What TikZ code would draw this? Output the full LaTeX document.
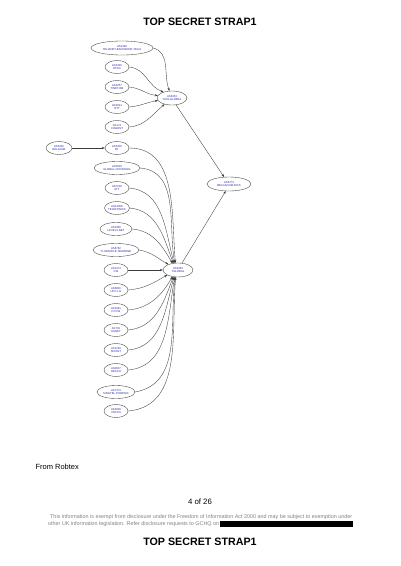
\documentclass[tikz,border=0pt]{standalone}
\usepackage{fontspec}
\setmainfont{Liberation Sans}
\usetikzlibrary{shapes.geometric,arrows.meta}
\definecolor{lbl}{RGB}{40,40,170}
\definecolor{edge}{RGB}{60,60,60}
\definecolor{disc}{RGB}{130,130,130}
\tikzset{
  asn/.style={draw=edge,line width=0.35pt,ellipse,inner sep=0pt,minimum height=13pt,minimum width=24pt,
    text=lbl,font=\fontsize{2.8}{3.2}\selectfont,align=center},
  link/.style={draw=edge,line width=0.35pt,-{Stealth[length=3pt,width=2.2pt]}},
  titlef/.style={font=\fontsize{10.7}{12}\selectfont\bfseries,text=black},
  discf/.style={anchor=west,font=\fontsize{5.4}{7}\selectfont,text=disc,inner sep=0pt}
}
\begin{document}
\begin{tikzpicture}[x=1pt,y=-1pt]
\useasboundingbox (0,0) rectangle (400,566);
\fill[white] (0,0) rectangle (400,566);
\node[titlef] (t1) at (200,22) {TOP SECRET STRAP1};
\node[titlef] (t2) at (200,542) {TOP SECRET STRAP1};

% top cluster
\node[asn,minimum width=62pt,minimum height=14pt] (n1) at (122,48) {AS1299\\TELIANET-BACKBONE-TELIA};
\node[asn] (n2) at (117,67) {AS3320\\DTAG};
\node[asn] (n3) at (117,87) {AS3257\\TINET-BB};
\node[asn] (n4) at (117,107) {AS2914\\NTT};
\node[asn] (n5) at (117,127) {AS174\\COGENT};
\node[asn,minimum width=30pt,minimum height=14pt] (ha) at (172,98) {AS6453\\TATA-GLOBAL};

% right node
\node[asn,minimum width=44pt,minimum height=14pt] (rn) at (229,184) {AS6774\\BELGACOM-BICS};

% left node
\node[asn,minimum width=26pt] (n7) at (59,148) {AS5432\\BELGIUM};
% lower column
\node[asn] (n8) at (117,148) {AS5400\\BT};
\node[asn,minimum width=46pt] (n9) at (117,168) {AS3549\\GLOBAL-CROSSING};
\node[asn] (n10) at (117,188) {AS7018\\ATT};
\node[asn] (n11) at (117,208) {AS12956\\TELEFONICA};
\node[asn,minimum width=32pt] (n12) at (116,229) {AS3356\\LEVEL3-NET};
\node[asn,minimum width=46pt] (n13) at (116,250) {AS6762\\TI-SPARKLE-SEABONE};
\node[asn] (n14) at (116,270) {AS1273\\CW};
\node[asn] (n15) at (116,290) {AS6830\\UPC-LG};
\node[asn] (n16) at (116,310) {AS3491\\PCCW};
\node[asn] (n17) at (116,330) {AS701\\UUNET};
\node[asn] (n18) at (116,350) {AS1239\\SPRINT};
\node[asn] (n19) at (116,370) {AS4637\\REACH};
\node[asn,minimum width=38pt] (n20) at (116,392) {AS7473\\SINGTEL-PHOENIX};
\node[asn] (n21) at (116,411) {AS4826\\VOCUS};
\node[asn,minimum width=30pt,minimum height=14pt] (hb) at (178,270) {AS6453\\TGLOBAL};

% top cluster edges
\draw[link] (n1.east) to[out=-15,in=110] (ha.110);
\draw[link] (n2.east) to[out=-5,in=160] (ha.145);
\draw[link] (n3.east) to[out=-5,in=175] (ha.170);
\draw[link] (n4.east) to[out=5,in=-170] (ha.190);
\draw[link] (n5.east) to[out=5,in=-140] (ha.220);
\draw[link] (ha.-60) -- (rn.125);
\draw[link] (hb.60) -- (rn.-115);
\draw[link] (n7.east) -- (n8.west);

% lower hub edges (from above)
\draw[link] (n8.east) to[out=0,in=95] (hb.110);
\draw[link] (n9.east) to[out=-5,in=100] (hb.115);
\draw[link] (n10.east) to[out=-5,in=105] (hb.120);
\draw[link] (n11.east) to[out=-5,in=110] (hb.125);
\draw[link] (n12.east) to[out=-5,in=120] (hb.130);
\draw[link] (n13.east) to[out=-10,in=150] (hb.150);
\draw[link] (n14.east) -- (hb.west);
\draw[link] (n15.east) to[out=5,in=-150] (hb.205);
% from below
\draw[link] (n16.east) to[out=5,in=-120] (hb.230);
\draw[link] (n17.east) to[out=5,in=-110] (hb.235);
\draw[link] (n18.east) to[out=5,in=-105] (hb.240);
\draw[link] (n19.east) to[out=5,in=-100] (hb.245);
\draw[link] (n20.east) to[out=10,in=-97] (hb.248);
\draw[link] (n21.east) to[out=5,in=-95] (hb.252);

% footer
\node[anchor=west,font=\fontsize{7.5}{9}\selectfont] (src) at (32,467) {From Robtex};
\node[font=\fontsize{7.8}{9}\selectfont] (pg) at (200,502) {4 of 26};
\node[discf] (d1) at (50,517) {This information is exempt from disclosure under the Freedom of Information Act 2000 and may be subject to exemption under};
\node[discf] (d2) at (48,524) {other UK information legislation. Refer disclosure requests to GCHQ on};
\fill[black] ([xshift=0.8pt]d2.east |- 0,520.6) rectangle (353,527);
\end{tikzpicture}
\end{document}
